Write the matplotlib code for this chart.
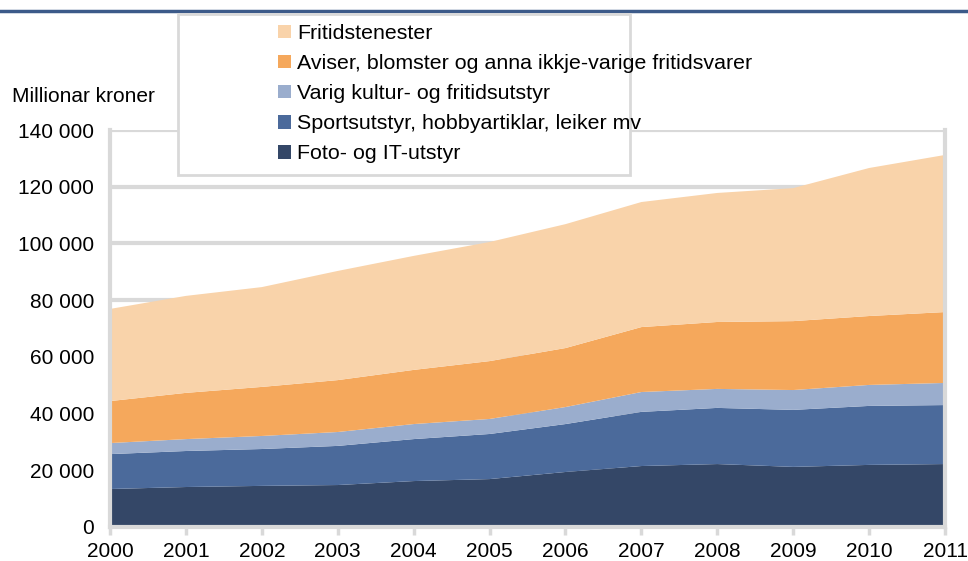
import numpy as np
import matplotlib.pyplot as plt
from matplotlib.patches import Rectangle
from matplotlib.lines import Line2D

plt.rcParams['font.family'] = ['Liberation Sans', 'DejaVu Sans']

years = np.arange(2000, 2012)
# cumulative levels, converted to layer sizes below
foto = [13400, 14100, 14500, 14800, 16200, 16900, 19400, 21500, 22200, 21200, 21900, 22200]
sport_top = [25700, 26800, 27500, 28600, 31000, 32800, 36300, 40600, 42000, 41300, 42700, 43000]
varig_top = [29600, 31000, 32100, 33500, 36300, 38100, 42300, 47600, 48700, 48300, 50100, 50800]
aviser_top = [44400, 47300, 49400, 51800, 55400, 58500, 63100, 70500, 72300, 72600, 74400, 75800]
total = [76900, 81500, 84600, 90300, 95600, 100500, 106800, 114600, 117800, 119500, 126600, 131200]

sport = np.array(sport_top) - np.array(foto)
varig = np.array(varig_top) - np.array(sport_top)
aviser = np.array(aviser_top) - np.array(varig_top)
fritid = np.array(total) - np.array(aviser_top)

labels = ['Foto- og IT-utstyr', 'Sportsutstyr, hobbyartiklar, leiker mv',
          'Varig kultur- og fritidsutstyr',
          'Aviser, blomster og anna ikkje-varige fritidsvarer', 'Fritidstenester']
colors = ['#344767', '#4b6a9b', '#9aadcd', '#f5a85c', '#f9d3aa']

fig = plt.figure(figsize=(9.68, 5.61), dpi=100)
ax = fig.add_axes([110/968, 1-527/561, 835/968, 397/561])

polys = ax.stackplot(years, foto, sport, varig, aviser, fritid, colors=colors, labels=labels, zorder=2)

grid = '#d9d9d9'
fs = 15
ax.set_xlim(2000, 2011)
ax.set_ylim(0, 140000)
ax.set_yticks(np.arange(0, 140001, 20000))
ax.set_yticklabels([f'{v:,}'.replace(',', ' ') for v in range(0, 140001, 20000)])
ax.set_xticks(years)
ax.yaxis.grid(True, color=grid, linewidth=3)
ax.set_axisbelow(True)
for s in ['left', 'right', 'bottom']:
    ax.spines[s].set_color(grid)
    ax.spines[s].set_linewidth(3)
ax.spines['top'].set_visible(False)
ax.tick_params(axis='y', length=0, labelsize=fs, pad=11.5)
ax.tick_params(axis='x', length=6, width=2.5, color=grid, labelsize=fs, pad=5)

fig.text(12/968, 1-97/561, 'Millionar kroner', fontsize=fs, va='center', ha='left')

# title rule at the top
fig.add_artist(Line2D([0, 1], [1-11/561, 1-11/561], color='#3c5a89', linewidth=2.5))

# legend box
fig.add_artist(Rectangle((178/968, 1-175/561), 452/968, 161/561, facecolor='white',
                         edgecolor=grid, linewidth=2, zorder=5))
h, l = ax.get_legend_handles_labels()
leg = fig.legend(h[::-1], l[::-1], loc='upper left', bbox_to_anchor=(278/968, 1-24/561),
                 frameon=False, fontsize=15.4, handlelength=0.6, handleheight=0.6,
                 handletextpad=0.3, labelspacing=0.52, borderaxespad=0, borderpad=0)
leg.set_zorder(6)

fig.savefig('out.png', dpi=100)
